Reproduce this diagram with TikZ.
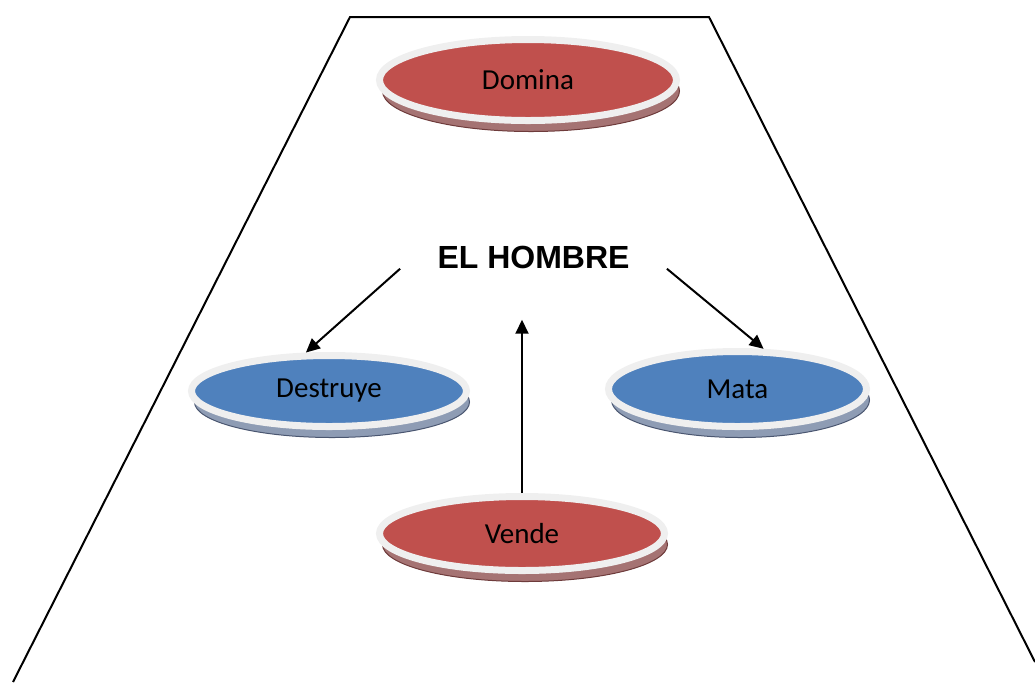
\documentclass[tikz,border=0pt]{standalone}
\usepackage{fontspec}
\setmainfont{Carlito}
\newfontfamily\headfont{Liberation Sans}
\usetikzlibrary{shapes.geometric, shadows, arrows.meta}

\definecolor{discred}{HTML}{C0504D}
\definecolor{discblue}{HTML}{4F81BD}
\definecolor{rimgray}{HTML}{EFEFEF}
\definecolor{redbase}{HTML}{A57373}
\definecolor{rededge}{HTML}{6E3B3B}
\definecolor{bluebase}{HTML}{8E9CB4}
\definecolor{blueedge}{HTML}{4A5670}

\begin{document}
\begin{tikzpicture}[x=0.5pt, y=-0.5pt,
  disc/.style={ellipse, draw=rimgray, line width=3.5pt, inner sep=0pt, font=\fontsize{14.5}{17}\selectfont},
  reddisc/.style={disc, fill=discred, drop shadow={shadow xshift=1.5pt, shadow yshift=-5.5pt, fill=redbase, draw=rededge, line width=0.5pt, opacity=1}},
  bluedisc/.style={disc, fill=discblue, drop shadow={shadow xshift=1.5pt, shadow yshift=-5.5pt, fill=bluebase, draw=blueedge, line width=0.5pt, opacity=1}},
  arr/.style={line width=1pt, -{Triangle[length=7pt,width=6.5pt]}}]
\useasboundingbox (0,0) rectangle (1035,682);

% frame
\draw[line width=1pt] (13,682) -- (350,17) -- (709,17) -- (1035,662);

\node[reddisc, minimum width=148.5pt, minimum height=40.5pt] (domina) at (528,80) {Domina};
\node[font=\headfont\bfseries\fontsize{16}{19}\selectfont, inner xsep=18.5pt, inner ysep=0pt] (hombre) at (533.5,257) {EL HOMBRE};
\node[bluedisc, minimum width=137.5pt, minimum height=35.5pt] (destruye) at (329,391) {Destruye};
\node[bluedisc, minimum width=129pt, minimum height=37.5pt] (mata) at (737.5,389) {Mata};
\node[reddisc, minimum width=142.5pt, minimum height=37pt] (vende) at (522,533.5) {Vende};

\path[arr]
(hombre.south west) edge (destruye.121)
(hombre.south east) edge (mata.57)
(vende) edge[shorten >=25.5pt] (vende |- hombre.south);
\end{tikzpicture}
\end{document}
